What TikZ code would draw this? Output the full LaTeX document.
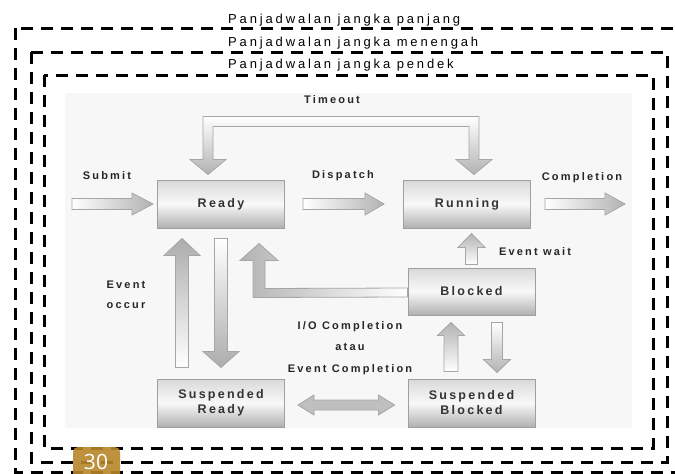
\documentclass[tikz,border=0pt]{standalone}
\usepackage{fontspec}
\setmainfont{Liberation Sans}
\newfontfamily\hdrfont[LetterSpace=22]{Liberation Sans}
\newfontfamily\lblfont[LetterSpace=20]{Liberation Sans}
\newfontfamily\boxfont[LetterSpace=18]{Liberation Sans}
\newfontfamily\badgefont{Open Sans}
\usetikzlibrary{calc}
\definecolor{badgecol}{HTML}{B8862B}
\tikzset{
  dashbox/.style={draw=black, line width=3pt, dash pattern=on 12pt off 8pt},
  hdr/.style={font=\hdrfont\fontsize{13}{14}\selectfont, anchor=base west, inner sep=0pt},
  lbl/.style={font=\lblfont\bfseries\fontsize{11}{20}\selectfont, inner sep=0pt, text=black!85, align=center},
  state/.style={draw=gray!75, line width=1pt, top color=gray!30, bottom color=gray!62, middle color=gray!5,
    minimum width=127pt, minimum height=48pt, inner sep=0pt, align=center,
    font=\boxfont\bfseries\fontsize{12.5}{15}\selectfont, text=black!80},
  blk/.style={draw=gray!70, line width=0.8pt},
}
% block arrows: [style]{tail}{tip}{shaft half}{head half}{head length}
\newcommand\myarrR[6][]{\path[blk,#1] ($(#2)+(0,-#4)$) -- ($(#3)+(-#6,-#4)$) -- ($(#3)+(-#6,-#5)$) -- (#3) -- ($(#3)+(-#6,#5)$) -- ($(#3)+(-#6,#4)$) -- ($(#2)+(0,#4)$) -- cycle;}
\newcommand\myarrU[6][]{\path[blk,#1] ($(#2)+(-#4,0)$) -- ($(#3)+(-#4,#6)$) -- ($(#3)+(-#5,#6)$) -- (#3) -- ($(#3)+(#5,#6)$) -- ($(#3)+(#4,#6)$) -- ($(#2)+(#4,0)$) -- cycle;}
\newcommand\myarrD[6][]{\path[blk,#1] ($(#2)+(-#4,0)$) -- ($(#3)+(-#4,-#6)$) -- ($(#3)+(-#5,-#6)$) -- (#3) -- ($(#3)+(#5,-#6)$) -- ($(#3)+(#4,-#6)$) -- ($(#2)+(#4,0)$) -- cycle;}
\begin{document}
\begin{tikzpicture}[x=1pt,y=-1pt]
\useasboundingbox (0,0) rectangle (675,474);
\fill[white] (0,0) rectangle (675,474);
% panel
\fill[gray!6] (65,93) rectangle (632,428);
% dashed scheduling frames
\draw[dashbox] (15,28) rectangle (690,472);
\draw[dashbox] (31,52) rectangle (667,462);
\draw[dashbox] (44,75) rectangle (653,448);
\node[hdr] (h1) at (228,23) {Panjadwalan jangka panjang};
\node[hdr] (h2) at (228,46) {Panjadwalan jangka menengah};
\node[hdr] (h3) at (228,68) {Panjadwalan jangka pendek};

% states
\node[state] (ready) at (221,204) {Ready};
\node[state] (running) at (467,204) {Running};
\node[state, minimum height=47pt] (blocked) at (471.5,291.5) {Blocked};
\node[state] (sready) at (221,403) {Suspended\\Ready};
\node[state] (sblocked) at (471.5,403) {Suspended\\Blocked};

% coordinates for arrows
\coordinate (subT) at (72,204);
\coordinate (subH) at ($(ready.west)+(-4,0)$);
\coordinate (disT) at ($(ready.east)+(18,0)$);
\coordinate (disH) at ($(running.west)+(-19,0)$);
\coordinate (comT) at ($(running.east)+(14,0)$);
\coordinate (comH) at (625,204);
\coordinate (occT) at ($(sready.north)+(-39,-11)$);
\coordinate (occH) at ($(ready.south)+(-39,10)$);
\coordinate (susT) at ($(ready.south)+(0,10)$);
\coordinate (susH) at ($(sready.north)+(0,-11)$);
\coordinate (ewT) at ($(blocked.north)+(0,-3)$);
\coordinate (ewH) at ($(running.south)+(4.5,5)$);
\coordinate (buT) at ($(sblocked.north)+(-20.5,-7)$);
\coordinate (buH) at ($(blocked.south)+(-20.5,7)$);
\coordinate (bdT) at ($(blocked.south)+(25.5,7)$);
\coordinate (bdH) at ($(sblocked.north)+(25.5,-6)$);
\coordinate (tl) at ($(ready.north)+(-13,-5)$);
\coordinate (tr) at ($(running.north)+(7,-5)$);
\coordinate (brH) at ($(ready.south)+(38,15)$);
\coordinate (sl) at ($(sready.east)+(13,2)$);
\coordinate (sr) at ($(sblocked.west)+(-13,2)$);

% straight block arrows
\myarrR[left color=white, right color=gray!60]{subT}{subH}{5.5}{11}{21}
\myarrR[left color=white, right color=gray!60]{disT}{disH}{5.5}{11}{19}
\myarrR[left color=white, right color=gray!60]{comT}{comH}{5.5}{11}{20}
\myarrU[top color=gray!65, bottom color=white]{occT}{occH}{6.5}{18}{17}
\myarrD[top color=white, bottom color=gray!65]{susT}{susH}{6.5}{18}{16}
\myarrU[top color=gray!60, bottom color=white]{ewT}{ewH}{6}{13.5}{14}
\myarrU[top color=gray!60, bottom color=white]{buT}{buH}{7}{13.5}{13}
\myarrD[top color=white, bottom color=gray!60]{bdT}{bdH}{5.5}{13.5}{13}

% timeout bracket
\path[blk, top color=white, bottom color=gray!60]
  (tl) -- ($(tl)+(-18,-15)$) -- ($(tl)+(-5,-15)$) -- ($(tl)+(-5,-58)$)
  -- ($(tr)+(5,-58)$) -- ($(tr)+(5,-15)$) -- ($(tr)+(18,-15)$) -- (tr)
  -- ($(tr)+(-18,-15)$) -- ($(tr)+(-5,-15)$) -- ($(tr)+(-5,-48)$)
  -- ($(tl)+(5,-48)$) -- ($(tl)+(5,-15)$) -- ($(tl)+(18,-15)$) -- cycle;

% blocked -> ready elbow
\path[blk, left color=gray!60, right color=white]
  ($(blocked.west)+(0,-3.5)$) -- ($(brH)+(6,45)$) -- ($(brH)+(6,17)$) -- ($(brH)+(19,17)$)
  -- (brH) -- ($(brH)+(-19,17)$) -- ($(brH)+(-6,17)$) -- ($(brH)+(-6,54)$)
  -- ($(blocked.west)+(0,5.5)$) -- cycle;

% suspended ready <-> suspended blocked
\path[blk, left color=gray!50, middle color=white, right color=gray!50]
  (sl) -- ($(sl)+(16,-10)$) -- ($(sl)+(16,-5)$) -- ($(sr)+(-16,-5)$) -- ($(sr)+(-16,-10)$)
  -- (sr) -- ($(sr)+(-16,10)$) -- ($(sr)+(-16,5)$) -- ($(sl)+(16,5)$) -- ($(sl)+(16,10)$) -- cycle;

% labels
\node[lbl] (lsub) at (107,176) {Submit};
\node[lbl] (ldis) at (343,176) {Dispatch};
\node[lbl] (lcom) at (582,178) {Completion};
\node[lbl] (ltim) at (332,100) {Timeout};
\node[lbl] (lew) at (535,252) {Event wait};
\node[lbl] (leo) at (126,295) {Event\\occur};
\node[lbl, font=\lblfont\bfseries\fontsize{11}{21.5}\selectfont] (lio) at (350,348) {I/O Completion\\atau\\Event Completion};

% page badge
\fill[badgecol, fill opacity=0.9, rounded corners=5pt] (73,447) rectangle (120,495);
\node[font=\badgefont\fontsize{21}{21}\selectfont, text=white, anchor=base, inner sep=0pt] (pg) at (96,469) {30};
\end{tikzpicture}
\end{document}
